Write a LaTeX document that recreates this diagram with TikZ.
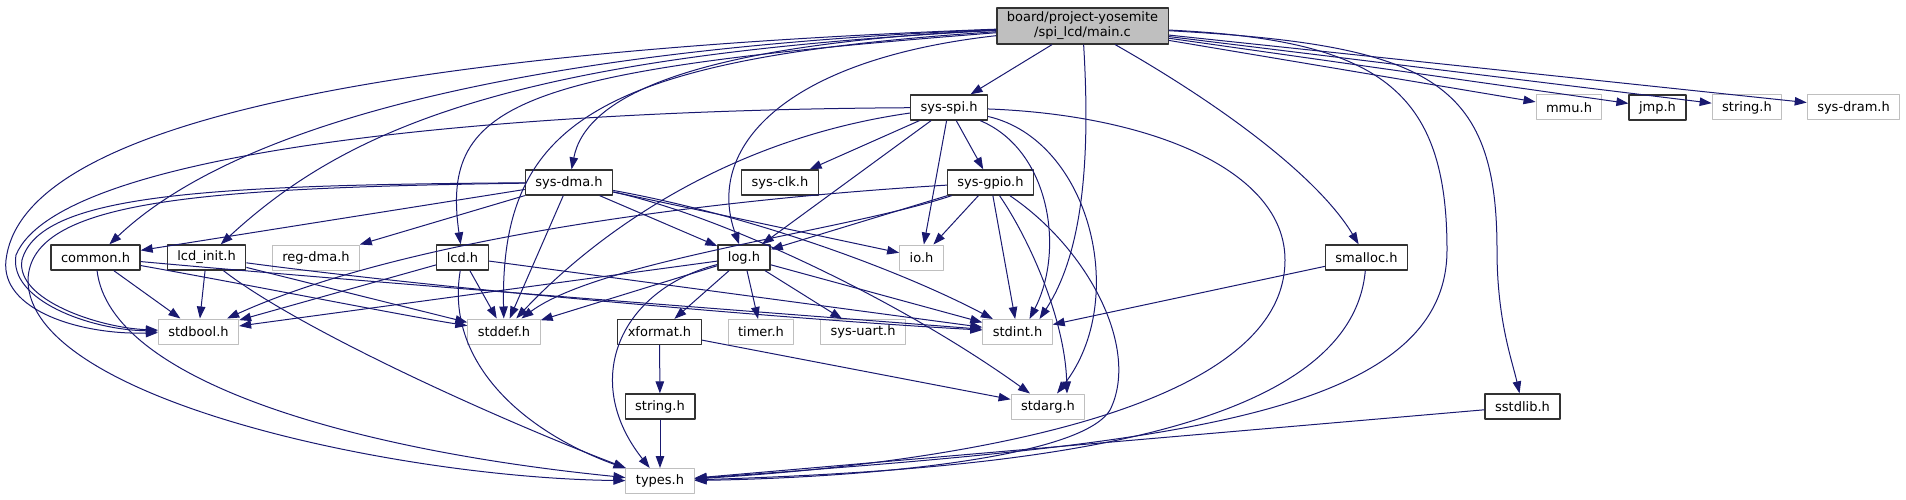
\documentclass[tikz,border=0pt]{standalone}
\usepackage{fontspec}
\setmainfont{DejaVu Sans}
\usetikzlibrary{arrows.meta}
\definecolor{navyline}{RGB}{25,25,112}
\definecolor{softgray}{RGB}{191,191,191}
\definecolor{darkrim}{RGB}{50,50,50}

\begin{document}
\begin{tikzpicture}[x=1pt,y=-1pt,line join=round,
  every node/.style={font=\fontsize{13}{15}\selectfont,inner xsep=10pt,inner ysep=0pt,minimum height=25pt},
  hdr/.style={draw=darkrim,line width=1.3pt,fill=white},
  extern/.style={draw=softgray,line width=1pt,fill=white},
  incl/.style={draw=navyline,line width=1pt,-{Triangle[length=12pt,width=8.5pt]}}]
  \useasboundingbox (0,0) rectangle (1906,500);

  \node[hdr,fill=softgray,align=center,inner ysep=4pt] (main) at (1082.5,26) {board/project-yosemite\\/spi\_lcd/main.c};
  \node[hdr] (spi) at (949,107.5) {sys-spi.h};
  \foreach \n/\x/\t in {mmu/1569/mmu.h, stra/1747/string.h, dram/1853.5/sys-dram.h}
    \node[extern] (\n) at (\x,107.5) {\t};
  \node[hdr] (jmp) at (1657.5,107.5) {jmp.h};
  \node[hdr] (dma) at (569,182.5) {sys-dma.h};
  \node[hdr] (clk) at (780,182.5) {sys-clk.h};
  \node[hdr] (gpio) at (990.5,182.5) {sys-gpio.h};
  \node[hdr] (common) at (95.5,257.5) {common.h};
  \node[hdr] (lcdinit) at (206.5,257.5) {lcd\_init.h};
  \node[extern] (regdma) at (316,257.5) {reg-dma.h};
  \node[hdr] (lcd) at (462.5,257.5) {lcd.h};
  \node[hdr] (logh) at (744,257.5) {log.h};
  \node[extern] (io) at (921.5,257.5) {io.h};
  \node[hdr] (smalloc) at (1366.5,257.5) {smalloc.h};
  \node[extern] (stdbool) at (198.5,331.5) {stdbool.h};
  \node[extern] (stddef) at (504,331.5) {stddef.h};
  \node[hdr] (xformat) at (659.5,332) {xformat.h};
  \node[extern] (timer) at (761,332) {timer.h};
  \node[extern] (uart) at (863,332) {sys-uart.h};
  \node[extern] (stdint) at (1017.5,332) {stdint.h};
  \node[hdr] (strb) at (660,406.5) {string.h};
  \node[extern] (stdarg) at (1048,406.5) {stdarg.h};
  \node[hdr] (sstdlib) at (1522.5,406.5) {sstdlib.h};
  \node[extern] (types) at (660,481) {types.h};

  % straight includes
  \foreach \a/\b in {main/spi, main/mmu, main/jmp, main/stra, main/dram,
      spi/clk, spi/gpio, spi/io, spi/logh, dma/common, dma/regdma, dma/stddef,
      dma/logh, dma/io, gpio/logh, gpio/io, gpio/stdint, common/stdbool,
      lcdinit/stdbool, lcdinit/stddef, lcd/stdbool, lcd/stddef, lcd/stdint,
      logh/stdbool, logh/stddef, logh/xformat, logh/timer, logh/uart, logh/stdint,
      smalloc/stdint, sstdlib/types, xformat/strb, xformat/stdarg, strb/types}
    \draw[incl] (\a) -- (\b);

  % from main.c
  \draw[incl] (main) .. controls (680,45) and (585,100) .. (dma);
  \draw[incl] (main) .. controls (500,50) and (230,130) .. (common);
  \draw[incl] (main) .. controls (520,55) and (350,125) .. (lcdinit);
  \draw[incl] (main) .. controls (520,70) and (440,100) .. (lcd);
  \draw[incl] (main) .. controls (780,60) and (705,150) .. (logh);
  \draw[incl] (main) .. controls (600,58) and (500,120) .. (stddef);
  \draw[incl] (main) .. controls (1090,150) and (1085,250) .. ([xshift=22pt]stdint.north);
  \draw[incl] (main) .. controls (300,55) and (20,140) .. (6,260) .. controls (0,310) and (80,335) .. (stdbool);
  \draw[incl] (main) .. controls (1380,40) and (1447,90) .. (1447,250) .. controls (1447,420) and (1150,445) .. (types);
  \draw[incl] (main) .. controls (1430,45) and (1497,80) .. (1497,250) .. controls (1497,320) and (1512,360) .. (sstdlib);
  \draw[incl] (main) .. controls (1230,110) and (1320,180) .. (smalloc);

  % from sys-spi.h
  \draw[incl] (spi) .. controls (720,140) and (590,240) .. (stddef);
  \draw[incl] (spi) .. controls (500,110) and (60,150) .. (16,255) .. controls (8,300) and (90,330) .. (stdbool);
  \draw[incl] (spi) .. controls (1050,150) and (1065,250) .. ([xshift=12pt]stdint.north);
  \draw[incl] (spi) .. controls (1090,140) and (1130,300) .. ([xshift=9pt]stdarg.north);
  \draw[incl] (spi) .. controls (1150,115) and (1285,170) .. (1285,260) .. controls (1285,400) and (1000,460) .. (types);

  % from sys-dma.h
  \draw[incl] (dma) .. controls (720,215) and (900,300) .. (stdarg);
  \draw[incl] (dma) .. controls (750,215) and (900,270) .. (stdint);
  \draw[incl] (dma) .. controls (200,185) and (40,195) .. (22,260) .. controls (15,300) and (100,328) .. (stdbool);
  \draw[incl] (dma) .. controls (200,188) and (30,200) .. (28,280) .. controls (28,400) and (400,478) .. (types);

  % from sys-gpio.h
  \draw[incl] (gpio) .. controls (700,200) and (400,240) .. (stdbool);
  \draw[incl] (gpio) .. controls (850,230) and (600,260) .. (stddef);
  \draw[incl] (gpio) .. controls (1030,240) and (1065,320) .. ([xshift=19pt]stdarg.north);
  \draw[incl] (gpio) .. controls (1090,250) and (1140,350) .. (1110,410) .. controls (1080,460) and (850,478) .. (types);

  % the rest
  \draw[incl] (common) .. controls (250,285) and (400,315) .. (stddef);
  \draw[incl] (common) .. controls (400,285) and (800,315) .. (stdint);
  \draw[incl] (common) .. controls (110,380) and (350,450) .. (types);
  \draw[incl] (lcdinit) .. controls (450,290) and (800,320) .. (stdint);
  \draw[incl] (lcdinit) .. controls (300,330) and (500,420) .. (types);
  \draw[incl] (lcd) .. controls (445,360) and (520,430) .. (types);
  \draw[incl] (logh) .. controls (620,290) and (580,380) .. (types);
  \draw[incl] (smalloc) .. controls (1350,440) and (1000,470) .. (types);
\end{tikzpicture}
\end{document}
